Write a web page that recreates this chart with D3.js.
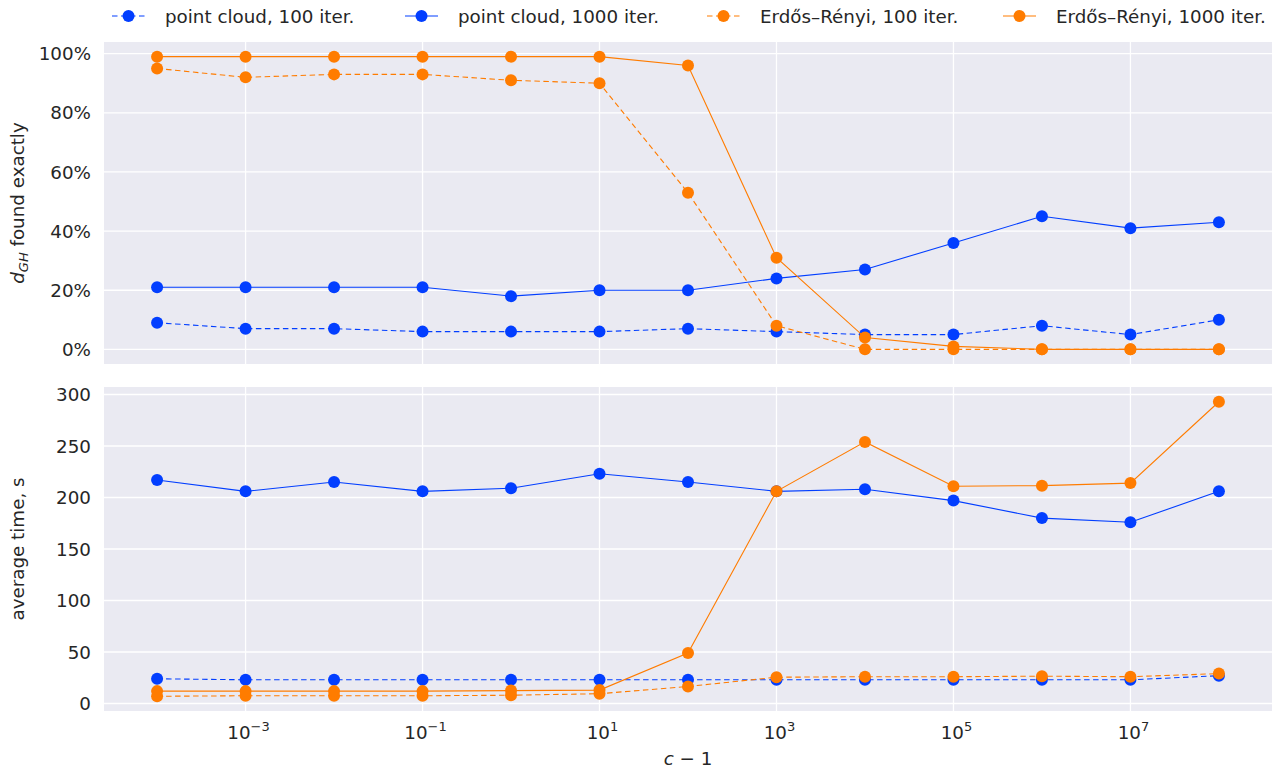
<!DOCTYPE html>
<html><head><meta charset="utf-8">
<script src="https://cdn.jsdelivr.net/npm/d3@7"></script>
<style>
body{margin:0;background:#fff;}
text{font-family:"DejaVu Sans",sans-serif;fill:#262626;}
</style></head>
<body><svg id="c" width="1284" height="769"></svg>
<script>
const exps = [-4,-3,-2,-1,0,1,2,3,4,5,6,7,8];
const xTickExps = [-3,-1,1,3,5,7];
const pcExact100  = [9,7,7,6,6,6,7,6,5,5,8,5,10];
const pcExact1000 = [21,21,21,21,18,20,20,24,27,36,45,41,43];
const erExact100  = [95,92,93,93,91,90,53,8,0,0,0,0,0];
const erExact1000 = [99,99,99,99,99,99,96,31,4,1,0,0,0];
const pcTime100  = [24,23,23,23,23,23,23,23,23,23,23,23,27];
const pcTime1000 = [217,206,215,206,209,223,215,206,208,197,180,176,206];
const erTime100  = [7,7.5,7.5,7.5,8,9.5,16.5,25.5,26,26,26.5,26,29];
const erTime1000 = [12,12,12,12,12.5,13,49,206,254,211,211.5,214,293];
const topTicks = [0,20,40,60,80,100];
const botTicks = [0,50,100,150,200,250,300];
const seriesNames = ["point cloud, 100 iter.","point cloud, 1000 iter.","Erdős–Rényi, 100 iter.","Erdős–Rényi, 1000 iter."];
const colors = ["#023eff","#023eff","#ff7c00","#ff7c00"];
const dashed = [true,false,true,false];

const FS = 18.3, FSS = 13;
const svg = d3.select("#c");
const L=104, R=1272;
const xs = exps.map(e=>Math.pow(10,e));
const x = d3.scaleLog().domain([Math.pow(10,-4.6),Math.pow(10,8.6)]).range([L,R]);

function panel(top,bottom,yDomain,ticks,fmt,series){
  const y = d3.scaleLinear().domain(yDomain).range([bottom,top]);
  const g = svg.append("g");
  g.append("rect").attr("x",L).attr("y",top).attr("width",R-L).attr("height",bottom-top).attr("fill","#eaeaf2");
  g.selectAll(".gx").data(xTickExps).enter().append("line")
    .attr("x1",d=>x(Math.pow(10,d))).attr("x2",d=>x(Math.pow(10,d)))
    .attr("y1",top).attr("y2",bottom).attr("stroke","#fff").attr("stroke-width",1.3);
  g.selectAll(".gy").data(ticks).enter().append("line")
    .attr("x1",L).attr("x2",R).attr("y1",d=>y(d)).attr("y2",d=>y(d))
    .attr("stroke","#fff").attr("stroke-width",1.3);
  g.selectAll(".ty").data(ticks).enter().append("text")
    .attr("x",L-13).attr("y",d=>y(d)).attr("dy","0.36em").attr("text-anchor","end")
    .attr("font-size",FS).text(fmt);
  series.forEach((vals,i)=>{
    const line = d3.line().x((d,j)=>x(xs[j])).y(d=>y(d));
    g.append("path").datum(vals).attr("d",line).attr("fill","none")
      .attr("stroke",colors[i]).attr("stroke-width",1.1)
      .attr("stroke-dasharray",dashed[i]?"5.5,3.5":null);
    g.selectAll(".m"+i).data(vals).enter().append("circle")
      .attr("cx",(d,j)=>x(xs[j])).attr("cy",d=>y(d)).attr("r",6).attr("fill",colors[i]);
  });
  return y;
}

panel(42,364,[-4.95,103.95],topTicks,d=>d+"%",[pcExact100,pcExact1000,erExact100,erExact1000]);
panel(387,711,[-7.3,307.3],botTicks,d=>d,[pcTime100,pcTime1000,erTime100,erTime1000]);

// x tick labels
const xt = svg.selectAll(".xt").data(xTickExps).enter().append("text")
  .attr("x",d=>x(Math.pow(10,d))+3).attr("y",739).attr("text-anchor","middle").attr("font-size",FS);
xt.append("tspan").text("10");
xt.append("tspan").attr("dy",-8).attr("font-size",FSS).text(d=>(d<0?"\u2212":"")+Math.abs(d));

// x label
const xl = svg.append("text").attr("x",(L+R)/2).attr("y",765).attr("text-anchor","middle").attr("font-size",FS);
xl.append("tspan").attr("font-style","italic").text("c");
xl.append("tspan").text(" \u2212 1");

// y labels
const yl1 = svg.append("text").attr("transform","translate(24,203) rotate(-90)").attr("text-anchor","middle").attr("font-size",FS);
yl1.append("tspan").attr("font-style","italic").text("d");
yl1.append("tspan").attr("font-style","italic").attr("font-size",FSS).attr("dy",4).text("GH");
yl1.append("tspan").attr("dy",-4).text(" found exactly");
svg.append("text").attr("transform","translate(24,549) rotate(-90)").attr("text-anchor","middle").attr("font-size",FS).text("average time, s");

// legend
const legX = [112,405,707,1003];
seriesNames.forEach((n,i)=>{
  const g = svg.append("g").attr("transform",`translate(${legX[i]},16)`);
  g.append("line").attr("x1",0).attr("x2",33).attr("y1",0).attr("y2",0)
    .attr("stroke",colors[i]).attr("stroke-width",1.1).attr("stroke-dasharray",dashed[i]?"5.5,3.5":null);
  g.append("circle").attr("cx",16.5).attr("cy",0).attr("r",6).attr("fill",colors[i]);
  g.append("text").attr("x",53).attr("y",0).attr("dy","0.36em").attr("font-size",FS).text(n);
});
</script></body></html>
